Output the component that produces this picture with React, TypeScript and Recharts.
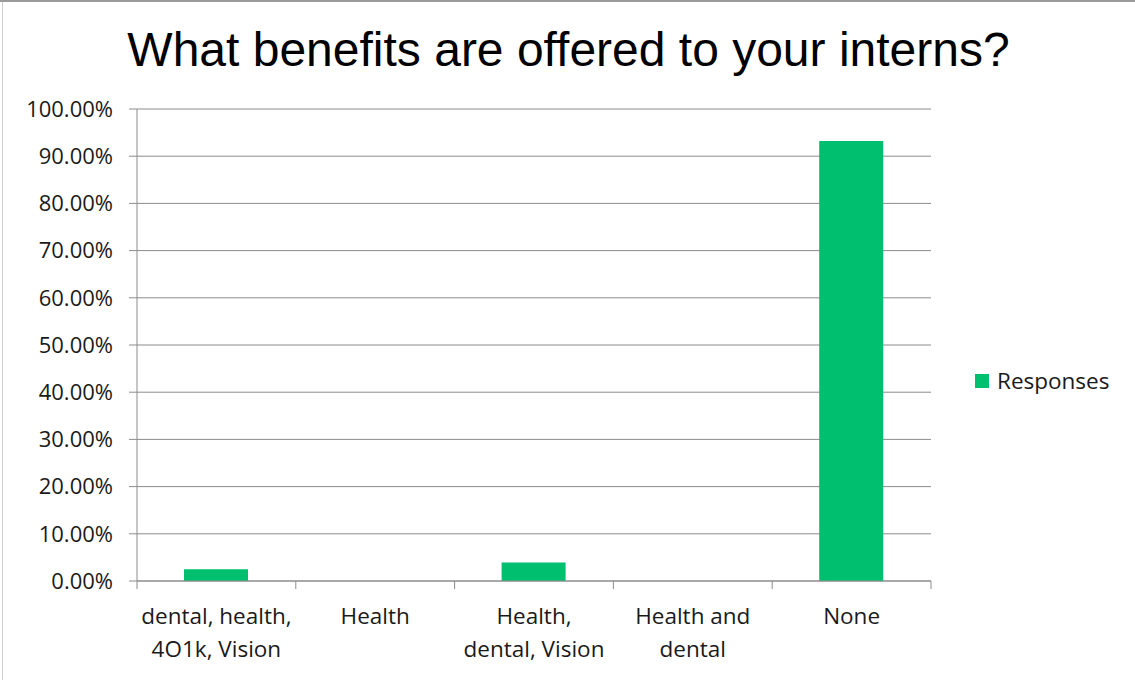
import React from "react";
import { BarChart, Bar, XAxis, YAxis, CartesianGrid, Legend } from "recharts";

const categories = ["dental, health,\n4O1k, Vision", "Health", "Health,\ndental, Vision", "Health and\ndental", "None"];
const responses = [2.5, 0, 3.9, 0, 93.2];
const yTicks = [0, 10, 20, 30, 40, 50, 60, 70, 80, 90, 100];

const data = categories.map((c, i) => ({ category: c, Responses: responses[i] }));

const W = 1135;
const H = 680;
const LEGEND_W = 150;
const M = { top: 109, right: 204 - LEGEND_W, bottom: 0, left: 0 };
const Y_W = 137;
const X_H = 99;
const PLOT_W = 931 - 137;
const FONT = "'Open Sans', 'Liberation Sans', sans-serif";
const GRID = "#8c8c8c";
const GREEN = "#00bf6f";

const XTick = (props: any) => {
  const { x, y, payload, index } = props;
  const bw = PLOT_W / categories.length;
  const lines = String(payload.value).split("\n");
  return (
    <g>
      <line x1={x - bw / 2} x2={x - bw / 2} y1={y - 8} y2={y} stroke={GRID} strokeWidth={1} />
      {index === categories.length - 1 && (
        <line x1={x + bw / 2} x2={x + bw / 2} y1={y - 8} y2={y} stroke={GRID} strokeWidth={1} />
      )}
      <text x={x} y={y} textAnchor="middle" fontFamily={FONT} fontSize={22.5} fill="#1a1a1a">
        {lines.map((l, i) => (
          <tspan key={i} x={x} dy={i === 0 ? 35 : 33}>
            {l}
          </tspan>
        ))}
      </text>
    </g>
  );
};

const LegendContent = () => (
  <div style={{ display: "flex", alignItems: "center", fontFamily: FONT, fontSize: 22.5, color: "#1a1a1a" }}>
    <span style={{ display: "inline-block", width: 14, height: 14, background: GREEN, marginRight: 8 }} />
    <span>Responses</span>
  </div>
);

export default function App() {
  return (
    <div
      style={{
        position: "absolute",
        left: 0,
        top: 0,
        width: W,
        height: H,
        background: "#fff",
        borderTop: "2px solid #9a9a9a",
        boxSizing: "border-box",
      }}
    >
      <div style={{ position: "absolute", left: 2, top: 0, width: 1, height: H, background: "#d0d0d0" }} />
      <div
        style={{
          position: "absolute",
          left: 0,
          width: W,
          top: 20,
          textAlign: "center",
          fontFamily: "'Liberation Sans Narrow', 'Liberation Sans', Arial, sans-serif",
          fontSize: 48,
          color: "#000",
          paddingLeft: 2,
          boxSizing: "border-box",
        }}
      >
        What benefits are offered to your interns?
      </div>
      <div style={{ position: "absolute", left: 0, top: -2 }}>
        <BarChart width={W} height={H} data={data} margin={M} barCategoryGap="30%">
          <CartesianGrid vertical={false} stroke={GRID} strokeWidth={1} />
          <XAxis
            dataKey="category"
            height={X_H}
            interval={0}
            axisLine={{ stroke: GRID }}
            tickLine={false}
            tick={<XTick />}
          />
          <YAxis
            width={Y_W}
            domain={[0, 100]}
            ticks={yTicks}
            interval={0}
            axisLine={{ stroke: GRID }}
            tickLine={{ stroke: GRID }}
            tickSize={8}
            tickMargin={16}
            tickFormatter={(v: number) => v.toFixed(2) + "%"}
            tick={{ fontFamily: FONT, fontSize: 22, fill: "#1a1a1a" }}
          />
          <Legend
            layout="vertical"
            verticalAlign="top"
            align="right"
            content={<LegendContent />}
            wrapperStyle={{ position: "absolute", left: 975, top: 365, width: LEGEND_W }}
          />
          <Bar dataKey="Responses" fill={GREEN} isAnimationActive={false} barSize={64} />
        </BarChart>
      </div>
    </div>
  );
}
